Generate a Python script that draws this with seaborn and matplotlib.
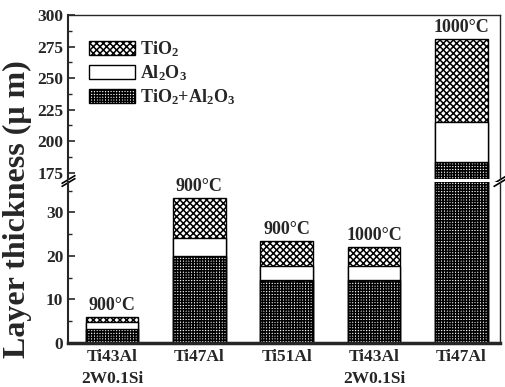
import numpy as np
import pandas as pd
import matplotlib
matplotlib.use('Agg')
import matplotlib.pyplot as plt
import seaborn as sns
from matplotlib.patches import Patch
from matplotlib.ticker import MultipleLocator

samples = ['Ti43Al\n2W0.1Si', 'Ti47Al', 'Ti51Al', 'Ti43Al\n2W0.1Si', 'Ti47Al']
temps = ['900°C', '900°C', '900°C', '1000°C', '1000°C']
mixed = [3.2, 20.0, 14.5, 14.4, 183.5]   # TiO2+Al2O3
al2o3 = [1.7, 4.2, 3.3, 3.4, 31.5]
tio2 = [1.1, 9.1, 5.6, 4.3, 66.0]

df = pd.DataFrame({'pos': range(len(samples)), 'mixed': mixed, 'al2o3': al2o3, 'tio2': tio2})
df['mid'] = df['mixed'] + df['al2o3']
df['total'] = df['mid'] + df['tio2']

sns.set_style('ticks')
plt.rcParams['font.family'] = ['Liberation Serif', 'DejaVu Serif']
plt.rcParams['font.weight'] = 'bold'
plt.rcParams['mathtext.fontset'] = 'custom'
plt.rcParams['mathtext.rm'] = 'Liberation Serif:bold'
plt.rcParams['mathtext.it'] = 'Liberation Serif:bold:italic'
plt.rcParams['mathtext.bf'] = 'Liberation Serif:bold'
plt.rcParams['mathtext.default'] = 'rm'
plt.rcParams['hatch.linewidth'] = 1.1

fig = plt.figure(figsize=(5.05, 3.87), dpi=100)
ax_top = fig.add_axes([0.135, 1 - 179 / 387, 0.855, (179 - 15) / 387])
ax_bot = fig.add_axes([0.135, 1 - 343 / 387, 0.855, (343 - 182) / 387])

for ax in (ax_top, ax_bot):
    # stacked bars: draw the totals first, then cover with the lower layers
    layers = [('total', 'xxxxx'), ('mid', None), ('mixed', '++++++')]
    for col, hatch in layers:
        sns.barplot(data=df, x='pos', y=col, ax=ax, color='white', saturation=1,
                    edgecolor='black', linewidth=1.0, width=0.6, hatch=hatch)
    ax.set_xlim(-0.5, 4.44)
    ax.set_xlabel('')
    ax.set_ylabel('')
    ax.tick_params(axis='y', which='both', direction='in', labelsize=12.5)
    ax.tick_params(axis='y', which='major', length=5, width=1.2)
    ax.tick_params(axis='y', which='minor', length=3, width=1.0)
    ax.spines['left'].set_linewidth(1.5)
    ax.spines['right'].set_linewidth(1.0)

ax_top.set_ylim(170, 300)
ax_top.yaxis.set_major_locator(MultipleLocator(25))
ax_top.yaxis.set_minor_locator(MultipleLocator(12.5))
ax_top.spines['bottom'].set_visible(False)
ax_top.spines['top'].set_linewidth(1.0)
ax_top.tick_params(axis='x', which='both', bottom=False, labelbottom=False)

ax_bot.set_ylim(0, 37)
ax_bot.yaxis.set_major_locator(MultipleLocator(10))
ax_bot.yaxis.set_minor_locator(MultipleLocator(5))
ax_bot.spines['top'].set_visible(False)
ax_bot.spines['bottom'].set_linewidth(2.5)
ax_bot.set_xticks(range(len(samples)))
ax_bot.set_xticklabels(samples, fontsize=12.5, fontweight='bold', linespacing=1.5)
ax_bot.tick_params(axis='x', length=0, pad=4)

for i, t in enumerate(temps):
    ax = ax_top if df['total'][i] > 37 else ax_bot
    ax.annotate(t, (i, df['total'][i]), xytext=(0, 2), textcoords='offset points',
                ha='center', va='bottom', fontsize=13, fontweight='bold')

# broken-axis marks
d = 0.6
kw = dict(marker=[(-1, -d), (1, d)], markersize=10, linestyle='none', color='k',
          mec='k', mew=1.2, clip_on=False)
ax_top.plot([0, 1], [0, 0], transform=ax_top.transAxes, **kw)
ax_bot.plot([0, 1], [1, 1], transform=ax_bot.transAxes, **kw)

handles = [Patch(facecolor='white', edgecolor='black', hatch='xxxxx', label='TiO$_2$'),
           Patch(facecolor='white', edgecolor='black', label='Al$_2$O$_3$'),
           Patch(facecolor='white', edgecolor='black', hatch='++++++', label='TiO$_2$+Al$_2$O$_3$')]
ax_top.legend(handles=handles, loc='upper left', frameon=False,
              prop={'family': 'Liberation Serif', 'weight': 'bold', 'size': 13},
              handlelength=2.5, handleheight=0.8, labelspacing=0.25, handletextpad=0.3,
              borderaxespad=0.3, bbox_to_anchor=(0.02, 0.93))

fig.text(0.034, 0.46, 'Layer thickness (μ m)', rotation=90, fontsize=23,
         fontweight='bold', ha='center', va='center')

fig.savefig('out.png', dpi=100)
